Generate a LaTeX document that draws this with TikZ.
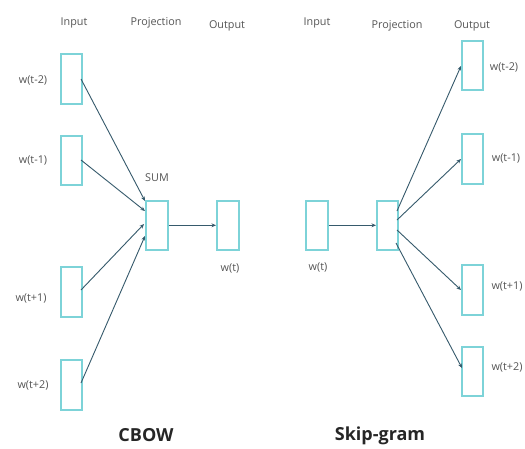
\documentclass[tikz,border=0pt]{standalone}
\usepackage{fontspec}
\setmainfont{Open Sans}
\usetikzlibrary{arrows.meta}
\definecolor{boxcol}{HTML}{7DD3D8}
\definecolor{arrcol}{HTML}{365A6C}
\definecolor{txtcol}{HTML}{555555}
\begin{document}
\begin{tikzpicture}[x=1pt,y=-1pt,
  vec/.style={draw=boxcol,line width=1.6pt,fill=white},
  lbl/.style={text=txtcol,font=\fontsize{10.8}{12}\selectfont,inner sep=0pt},
  ttl/.style={text=black!85,font=\bfseries\fontsize{18}{20}\selectfont,inner sep=0pt},
  conn/.style={draw=arrcol,line width=0.9pt,-{Stealth[length=4.5pt,width=3.8pt]}}]
\useasboundingbox (0,0) rectangle (525,448);
\fill[white] (0,0) rectangle (525,448);

% box helper: name, left, top, right, bottom
\newcommand{\vecbox}[5]{\node[vec,minimum width=#4-#2,minimum height=#5-#3,inner sep=0pt,anchor=north west] (#1) at (#2,#3) {};}

% ---------- CBOW ----------
\vecbox{ci1}{60}{53}{81}{103}
\vecbox{ci2}{60}{135}{81}{184}
\vecbox{ci3}{60}{266}{81}{316}
\vecbox{ci4}{60}{359}{81}{409}
\vecbox{cp}{145}{200}{167}{249}
\vecbox{co}{216}{200}{238}{249}

\node[lbl] (cin) at (74,23) {Input};
\node[lbl] (cpr) at (156,23) {Projection};
\node[lbl] (cou) at (227,26) {Output};
\node[lbl] (sum) at (157,178) {SUM};
\node[lbl] (cl1) at (33,80) {w(t-2)};
\node[lbl] (cl2) at (33,160) {w(t-1)};
\node[lbl] (cl3) at (31,298) {w(t+1)};
\node[lbl] (cl4) at (33,385) {w(t+2)};
\node[lbl] (clo) at (230,268) {w(t)};
\node[ttl] (cbow) at (146,435) {CBOW};

\coordinate (c1s) at (81,79);   \coordinate (c1e) at (145,201);
\coordinate (c2s) at (81,160);  \coordinate (c2e) at (145,211);
\coordinate (c3s) at (81,290);  \coordinate (c3e) at (144,224);
\coordinate (c4s) at (81,383);  \coordinate (c4e) at (145,236);
\draw[conn] (c1s) -- (c1e);
\draw[conn] (c2s) -- (c2e);
\draw[conn] (c3s) -- (c3e);
\draw[conn] (c4s) -- (c4e);
\draw[conn] (cp.east) -- (co.west);

% ---------- Skip-gram ----------
\vecbox{si}{305}{200}{327}{249}
\vecbox{sp}{376}{200}{397}{249}
\vecbox{so1}{461}{40}{482}{89}
\vecbox{so2}{461}{133}{482}{183}
\vecbox{so3}{461}{264}{482}{314}
\vecbox{so4}{461}{346}{482}{395}

\node[lbl] (sin) at (317,23) {Input};
\node[lbl] (spr) at (397,26) {Projection};
\node[lbl] (sou) at (472,26) {Output};
\node[lbl] (sl1) at (504,67) {w(t-2)};
\node[lbl] (sl2) at (506,158) {w(t-1)};
\node[lbl] (sl3) at (507,286) {w(t+1)};
\node[lbl] (sl4) at (507,367) {w(t+2)};
\node[lbl] (sli) at (318,267) {w(t)};
\node[ttl] (skip) at (380,436) {Skip-gram};

\coordinate (s1s) at (397,211); \coordinate (s1e) at (461,66);
\coordinate (s2s) at (397,220); \coordinate (s2e) at (461,159);
\coordinate (s3s) at (397,230); \coordinate (s3e) at (461,290);
\coordinate (s4s) at (396,243); \coordinate (s4e) at (462,368);
\draw[conn] (si.east) -- (sp.west);
\draw[conn] (s1s) -- (s1e);
\draw[conn] (s2s) -- (s2e);
\draw[conn] (s3s) -- (s3e);
\draw[conn] (s4s) -- (s4e);
\end{tikzpicture}
\end{document}
